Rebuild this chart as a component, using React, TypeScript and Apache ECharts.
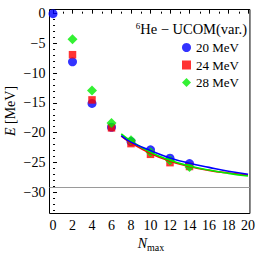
import React, { useEffect, useRef } from "react";
import * as echarts from "echarts";

// Data
const nmax20 = [0, 2, 4, 6, 8, 10, 12, 14];
const e20 = [0, -8.1, -15.1, -19.1, -21.5, -22.9, -24.3, -25.2];
const nmaxHi = [2, 4, 6, 8, 10, 12, 14];
const e24 = [-6.9, -14.5, -19.2, -21.85, -23.65, -25.05, -25.7];
const e28 = [-4.3, -12.9, -18.4, -21.3, -23.3, -24.7, -25.8];

const fitN = [7, 8, 10, 12, 14, 16, 18, 20];
const fit20 = [-20.5, -21.6, -23.0, -24.25, -25.15, -25.85, -26.5, -27.0];
const fit24 = [-20.6, -21.75, -23.5, -24.8, -25.7, -26.35, -26.8, -27.15];
const fit28 = [-20.2, -21.4, -23.3, -24.65, -25.6, -26.3, -26.85, -27.3];

const expEnergy = -29.27;

const xMajor = [0, 2, 4, 6, 8, 10, 12, 14, 16, 18, 20];
const xMinor = [1, 3, 5, 7, 9, 11, 13, 15, 17, 19];
const yMajor = [0, -5, -10, -15, -20, -25, -30];
const yMinor = [-1, -2, -3, -4, -6, -7, -8, -9, -11, -12, -13, -14, -16, -17, -18, -19, -21, -22, -23, -24, -26, -27, -28, -29, -31, -32, -33];

const seriesNames = ["20 MeV", "24 MeV", "28 MeV"];
const colors = ["#0000ff", "#ff0000", "#00ee00"];

const FONT = "Liberation Serif";

const zip = (xs: number[], ys: number[]) => xs.map((x, i) => [x, ys[i]]);

export default function App() {
  const ref = useRef<HTMLDivElement>(null);
  useEffect(() => {
    if (!ref.current) return;
    const chart = echarts.init(ref.current, null, { renderer: "svg" });
    const gridPos = { left: 49.5, top: 9.5, right: 7, bottom: 44.5 };
    const xMin = -0.36, xMax = 20.2, yMin = -33.6, yMax = 0.7;
    const fmt = (v: number) => (v < 0 ? "\u2212" + Math.abs(v) : String(v));
    chart.setOption({
      animation: false,
      backgroundColor: "#fff",
      textStyle: { fontFamily: FONT, color: "#000" },
      grid: [
        { ...gridPos, show: true, borderColor: "#000", borderWidth: 1, backgroundColor: "transparent" },
        { ...gridPos, show: false },
      ],
      xAxis: [
        {
          type: "value", gridIndex: 0, min: xMin, max: xMax,
          axisLine: { show: false }, splitLine: { show: false },
          axisTick: { inside: true, length: 4, customValues: xMajor, lineStyle: { color: "#000" } },
          axisLabel: { customValues: xMajor, fontFamily: FONT, fontSize: 14, color: "#000", margin: 5 },
        },
        {
          type: "value", gridIndex: 1, min: xMin, max: xMax,
          axisLine: { show: false }, splitLine: { show: false },
          axisTick: { inside: true, length: 2, customValues: xMinor, lineStyle: { color: "#000" } },
          axisLabel: { show: false },
        },
      ],
      yAxis: [
        {
          type: "value", gridIndex: 0, min: yMin, max: yMax,
          axisLine: { show: false }, splitLine: { show: false },
          axisTick: { inside: true, length: 4, customValues: yMajor, lineStyle: { color: "#000" } },
          axisLabel: { customValues: yMajor, fontFamily: FONT, fontSize: 14, color: "#000", margin: 4, formatter: fmt },
        },
        {
          type: "value", gridIndex: 1, min: yMin, max: yMax,
          axisLine: { show: false }, splitLine: { show: false },
          axisTick: { inside: true, length: 2, customValues: yMinor, lineStyle: { color: "#000" } },
          axisLabel: { show: false },
        },
      ],
      legend: {
        data: seriesNames,
        orient: "vertical",
        left: 182,
        top: 41,
        padding: 0,
        itemWidth: 9,
        itemHeight: 9,
        itemGap: 4.5,
        textStyle: { fontFamily: FONT, fontSize: 13, color: "#000", lineHeight: 10 },
      },
      series: [
        {
          name: "fit24", type: "line", data: zip(fitN, fit24), smooth: true, showSymbol: false,
          lineStyle: { color: colors[1], width: 1.6 }, itemStyle: { color: colors[1] }, silent: true,
          markLine: {
            silent: true, symbol: ["none", "none"], label: { show: false },
            lineStyle: { color: "#9a9a9a", width: 1, type: "solid" },
            data: [{ yAxis: expEnergy }],
          },
        },
        {
          name: "fit28", type: "line", data: zip(fitN, fit28), smooth: true, showSymbol: false,
          lineStyle: { color: colors[2], width: 1.6 }, itemStyle: { color: colors[2] }, silent: true,
        },
        {
          name: "fit20", type: "line", data: zip(fitN, fit20), smooth: true, showSymbol: false,
          lineStyle: { color: colors[0], width: 1.6 }, itemStyle: { color: colors[0] }, silent: true,
        },
        {
          name: seriesNames[0], type: "scatter", data: zip(nmax20, e20), symbol: "circle", symbolSize: 9,
          itemStyle: { color: colors[0] },
        },
        {
          name: seriesNames[1], type: "scatter", data: zip(nmaxHi, e24), symbol: "rect", symbolSize: 7.5,
          itemStyle: { color: colors[1] },
        },
        {
          name: seriesNames[2], type: "scatter", data: zip(nmaxHi, e28), symbol: "diamond", symbolSize: 10,
          itemStyle: { color: colors[2] },
        },
      ],
      graphic: [
        {
          type: "text", right: 11, top: 21,
          style: {
            text: "{s|6}{m|He \u2212 UCOM(var.)}",
            rich: {
              s: { fontFamily: FONT, fontSize: 9, verticalAlign: "top", fill: "#000" },
              m: { fontFamily: FONT, fontSize: 14.5, lineHeight: 16, fill: "#000" },
            },
          },
        },
        {
          type: "text", x: 10, y: 111, rotation: Math.PI / 2,
          style: {
            text: "{e|E} [MeV]",
            align: "center", verticalAlign: "middle",
            font: `14px ${FONT}`, fill: "#000",
            rich: { e: { fontFamily: FONT, fontSize: 14, fontStyle: "italic", fill: "#000" } },
          },
        },
        {
          type: "text", x: 151, y: 243,
          style: {
            text: "{n|N}{b|max}",
            align: "center", verticalAlign: "middle", fill: "#000",
            rich: {
              n: { fontFamily: FONT, fontSize: 14, fontStyle: "italic", lineHeight: 18, fill: "#000" },
              b: { fontFamily: FONT, fontSize: 10, verticalAlign: "bottom", lineHeight: 10, fill: "#000" },
            },
          },
        },
      ],
    });
    return () => chart.dispose();
  }, []);
  return (
    <div
      ref={ref}
      style={{ position: "fixed", left: 0, top: 0, width: 258, height: 258, background: "#fff" }}
    />
  );
}
